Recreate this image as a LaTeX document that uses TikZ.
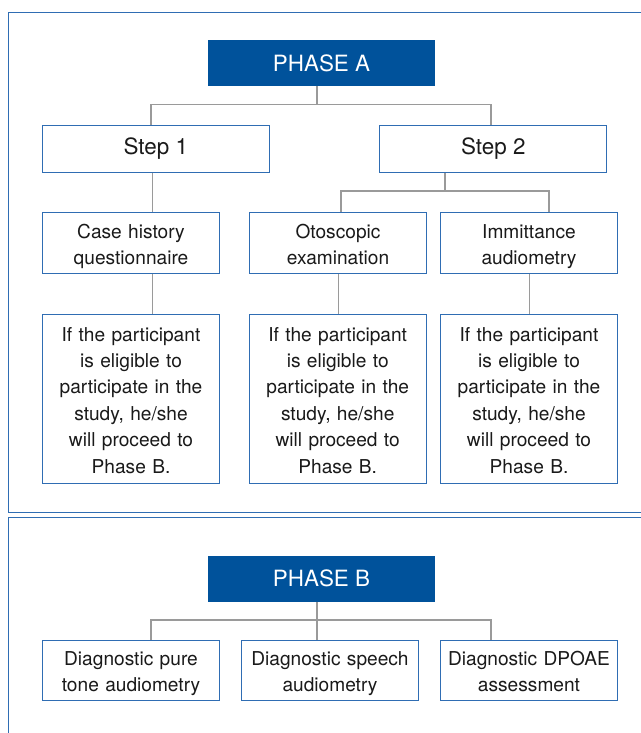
\documentclass[tikz,border=0pt]{standalone}
\usepackage{fontspec}
\setmainfont{TeX Gyre Heros}
\definecolor{phasefill}{HTML}{00529B}
\definecolor{boxline}{HTML}{2F6DB3}
\definecolor{connline}{HTML}{9A9A9A}
\definecolor{txt}{HTML}{1A1A1A}
\begin{document}
\begin{tikzpicture}[x=1bp,y=-1bp,
  phase/.style={fill=phasefill,draw=none,text=white,inner sep=0pt,
    font=\fontsize{22.5}{27}\selectfont,minimum width=227bp,minimum height=46bp},
  stepbox/.style={draw=boxline,line width=1bp,fill=white,text=txt,inner sep=0pt,
    font=\fontsize{22.5}{27}\selectfont,minimum width=227bp,minimum height=46bp},
  tbox/.style={draw=boxline,line width=1bp,fill=white,text=txt,inner sep=0pt,
    align=center,text width=177bp,font=\fontsize{19.2}{26.5}\selectfont,
    execute at begin node={\rule{0pt}{24.5bp}\ignorespaces},execute at end node={\strut},
    minimum width=177.4bp,minimum height=60.8bp},
  pbox/.style={tbox,minimum height=169bp},
  conn/.style={draw=connline,line width=1.6bp},
  panel/.style={draw=boxline,line width=1bp}]
\useasboundingbox (0,0) rectangle (641,733);
\clip (0,0) rectangle (641,733);
\fill[white] (0,0) rectangle (641,733);
% panels
\draw[panel] (8.5,12.5) rectangle (660,512.3);
\draw[panel] (8.5,517.7) rectangle (660,760);
% phase A
\node[phase] (phaseA) at (321.5,63) {PHASE A};
\node[stepbox] (step1) at (155.8,149) {Step 1};
\node[stepbox,minimum width=226.7bp] (step2) at (493.3,149) {Step 2};
\node[tbox] (case) at (131,243) {Case history\\questionnaire};
\node[tbox] (oto) at (338,243) {Otoscopic\\examination};
\node[tbox] (imm) at (529,243) {Immittance\\audiometry};
\node[pbox] (p1) at (131,398.8) {If the participant\\is eligible to\\participate in the\\study, he/she\\will proceed to\\Phase B.};
\node[pbox] (p2) at (337.7,398.8) {If the participant\\is eligible to\\participate in the\\study, he/she\\will proceed to\\Phase B.};
\node[pbox] (p3) at (529,398.8) {If the participant\\is eligible to\\participate in the\\study, he/she\\will proceed to\\Phase B.};
% phase B
\node[phase] (phaseB) at (321.5,578.8) {PHASE B};
\node[tbox] (b1) at (131,670.5) {Diagnostic pure\\tone audiometry};
\node[tbox] (b2) at (330,670.5) {Diagnostic speech\\audiometry};
\node[tbox] (b3) at (529,670.5) {Diagnostic DPOAE\\assessment};
% junction coordinates
\coordinate (jA) at (317,104.5);
\coordinate (jA1) at (151,104.5);
\coordinate (jA2) at (491,104.5);
\coordinate (jS2) at (445,190.7);
\coordinate (jS2a) at (341,190.7);
\coordinate (jS2b) at (548.7,190.7);
\coordinate (jB) at (317,620);
\coordinate (jB1) at (151,620);
\coordinate (jB3) at (491,620);
\coordinate (x1) at (152.3,0);
\coordinate (x2) at (338.3,0);
\coordinate (x3) at (529.3,0);
% connectors phase A
\draw[conn] (phaseA.south -| jA) -- (jA);
\draw[conn] (step1.north -| jA1) -- (jA1) -- (jA2) -- (step2.north -| jA2);
\draw[conn] (step1.south -| x1) -- (case.north -| x1);
\draw[conn] (step2.south -| jS2) -- (jS2);
\draw[conn] (oto.north -| jS2a) -- (jS2a) -- (jS2b) -- (imm.north -| jS2b);
\draw[conn] (case.south -| x1) -- (p1.north -| x1);
\draw[conn] (oto.south -| x2) -- (p2.north -| x2);
\draw[conn] (imm.south -| x3) -- (p3.north -| x3);
% connectors phase B
\draw[conn] (phaseB.south -| jB) -- (b2.north -| jB);
\draw[conn] (b1.north -| jB1) -- (jB1) -- (jB3) -- (b3.north -| jB3);
\end{tikzpicture}
\end{document}
